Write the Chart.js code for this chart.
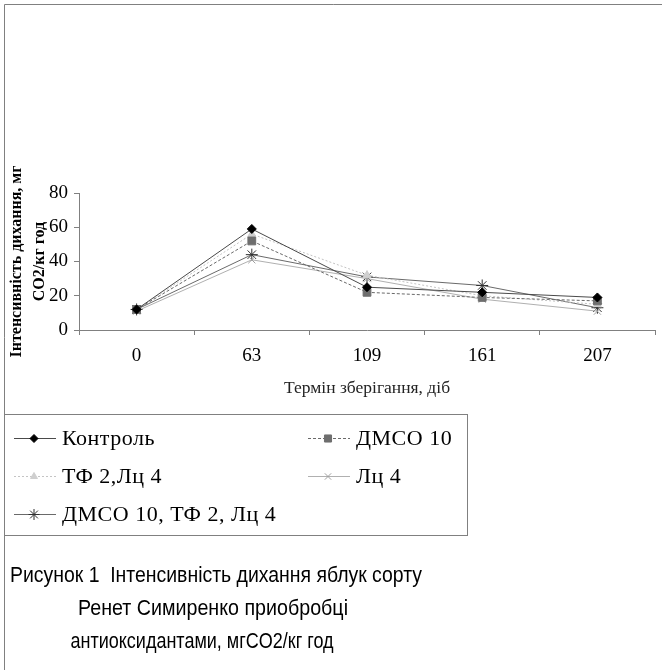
<!DOCTYPE html>
<html><head><meta charset="utf-8">
<script src="https://cdn.jsdelivr.net/npm/chart.js@4.4.0/dist/chart.umd.min.js"></script>
<style>html,body{margin:0;padding:0;background:#fff;overflow:hidden}canvas{display:block}</style>
</head><body>
<canvas id="c" width="662" height="670"></canvas>
<script>
// ---- data ----
const categories = ['0', '63', '109', '161', '207'];
const seriesNames = ['Контроль', 'ДМСО 10', 'ТФ 2,Лц 4', 'Лц 4', 'ДМСО 10, ТФ 2, Лц 4'];
const control  = [12, 59, 25, 22, 19];
const dmso10   = [12, 52, 22, 19, 17];
const tf2lc4   = [12, 56, 32, 20, 15];
const lc4      = [11, 41, 30, 18, 11];
const dmsoTfLc = [12, 44, 31, 26, 13];
const yTicks = [0, 20, 40, 60, 80];
const xTitle = 'Термін зберігання, діб';
const yTitle = ['Інтенсивність дихання, мг', 'CO2/кг год'];
const caption = ['Рисунок 1  Інтенсивність дихання яблук сорту', 'Ренет Симиренко приобробці', 'антиоксидантами, мгCO2/кг год'];

// ---- styles ----
const styles = [
  {line:'#4a4a4a', dash:[],    pt:'rectRot',  r:4.5, fill:'#000000', stroke:'#000000'},
  {line:'#6a6a6a', dash:[3,2], pt:'rect',     r:5.5, fill:'#6e6e6e', stroke:'#6e6e6e'},
  {line:'#c4c4c4', dash:[2,2], pt:'triangle', r:4.5, fill:'#cfcfcf', stroke:'#cfcfcf'},
  {line:'#b0b0b0', dash:[],    pt:'crossRot', r:5,   fill:'#a0a0a0', stroke:'#a0a0a0'},
  {line:'#6a6a6a', dash:[],    pt:'star',     r:6,   fill:'#303030', stroke:'#303030'}
];
const values = [control, dmso10, tf2lc4, lc4, dmsoTfLc];

const datasets = values.map((v, i) => ({
  label: seriesNames[i],
  data: v,
  borderColor: styles[i].line,
  borderWidth: 1,
  borderDash: styles[i].dash,
  pointStyle: styles[i].pt,
  pointRadius: styles[i].r,
  pointBackgroundColor: styles[i].fill,
  pointBorderColor: styles[i].stroke,
  pointBorderWidth: 1,
  tension: 0,
  fill: false
}));

const legendPos = [[14, 438], [308, 438], [14, 476], [308, 476], [14, 514]];

const decor = {
  id: 'decor',
  beforeDraw(chart) {
    const ctx = chart.ctx;
    ctx.save(); ctx.fillStyle = '#fff'; ctx.fillRect(0, 0, chart.width, chart.height); ctx.restore();
  },
  afterDraw(chart) {
    const ctx = chart.ctx;
    ctx.save();
    ctx.strokeStyle = '#808080'; ctx.lineWidth = 1;
    ctx.beginPath(); ctx.moveTo(4.5, 670); ctx.lineTo(4.5, 4.5); ctx.lineTo(662, 4.5); ctx.stroke();
    ctx.strokeRect(4.5, 414.5, 463, 121);
    chart.data.datasets.forEach((ds, i) => {
      const [x, y] = legendPos[i];
      ctx.strokeStyle = ds.borderColor; ctx.lineWidth = 1; ctx.setLineDash(ds.borderDash || []);
      ctx.beginPath(); ctx.moveTo(x, y + 0.5); ctx.lineTo(x + 42, y + 0.5); ctx.stroke();
      ctx.setLineDash([]);
      ctx.fillStyle = ds.pointBackgroundColor; ctx.strokeStyle = ds.pointBorderColor;
      Chart.helpers.drawPoint(ctx, {pointStyle: ds.pointStyle, radius: ds.pointRadius - 0.5, rotation: 0, borderWidth: 1}, x + 20, y + 0.5);
      ctx.fillStyle = '#000'; ctx.font = '22px "Liberation Serif"'; ctx.textBaseline = 'middle'; ctx.textAlign = 'left';
      ctx.letterSpacing = '0.5px';
      ctx.fillText(ds.label, x + 48, y + 1);
    });
    ctx.letterSpacing = '0px';
    ctx.font = '22px "Liberation Sans"'; ctx.fillStyle = '#000'; ctx.textAlign = 'center'; ctx.textBaseline = 'middle';
    ctx.fillText(caption[0], 216, 576, 412);
    ctx.fillText(caption[1], 213, 609, 270);
    ctx.fillText(caption[2], 202, 642, 263);
    ctx.restore();
  }
};

new Chart(document.getElementById('c'), {
  type: 'line',
  data: {labels: categories, datasets},
  plugins: [decor],
  options: {
    responsive: false, animation: false, devicePixelRatio: 1,
    layout: {padding: {top: 193, left: 0, right: 0, bottom: 270}},
    plugins: {legend: {display: false}, tooltip: {enabled: false}},
    scales: {
      x: {
        offset: true,
        grid: {display: true, offset: true, drawOnChartArea: false, drawTicks: true, tickLength: 5, color: '#808080'},
        border: {color: '#808080'},
        ticks: {font: {family: 'Liberation Serif', size: 19}, color: '#000', padding: 10, maxRotation: 0},
        title: {display: true, text: xTitle, font: {family: 'Liberation Serif', size: 17.5}, color: '#222', padding: {top: 0, bottom: 1}},
        afterFit(s) { s.height = 70; }
      },
      y: {
        min: 0, max: 80,
        afterBuildTicks(s) { s.ticks = yTicks.map(v => ({value: v})); },
        grid: {drawOnChartArea: false, drawTicks: true, tickLength: 5, color: '#808080'},
        border: {color: '#808080'},
        ticks: {font: {family: 'Liberation Serif', size: 19}, color: '#000', padding: 6},
        title: {display: true, text: yTitle, font: {family: 'Liberation Serif', size: 16, weight: 'bold', lineHeight: 1.45}, color: '#000', padding: {top: 5}},
        afterFit(s) { s.width = 79; }
      }
    }
  }
});
</script>
</body></html>
